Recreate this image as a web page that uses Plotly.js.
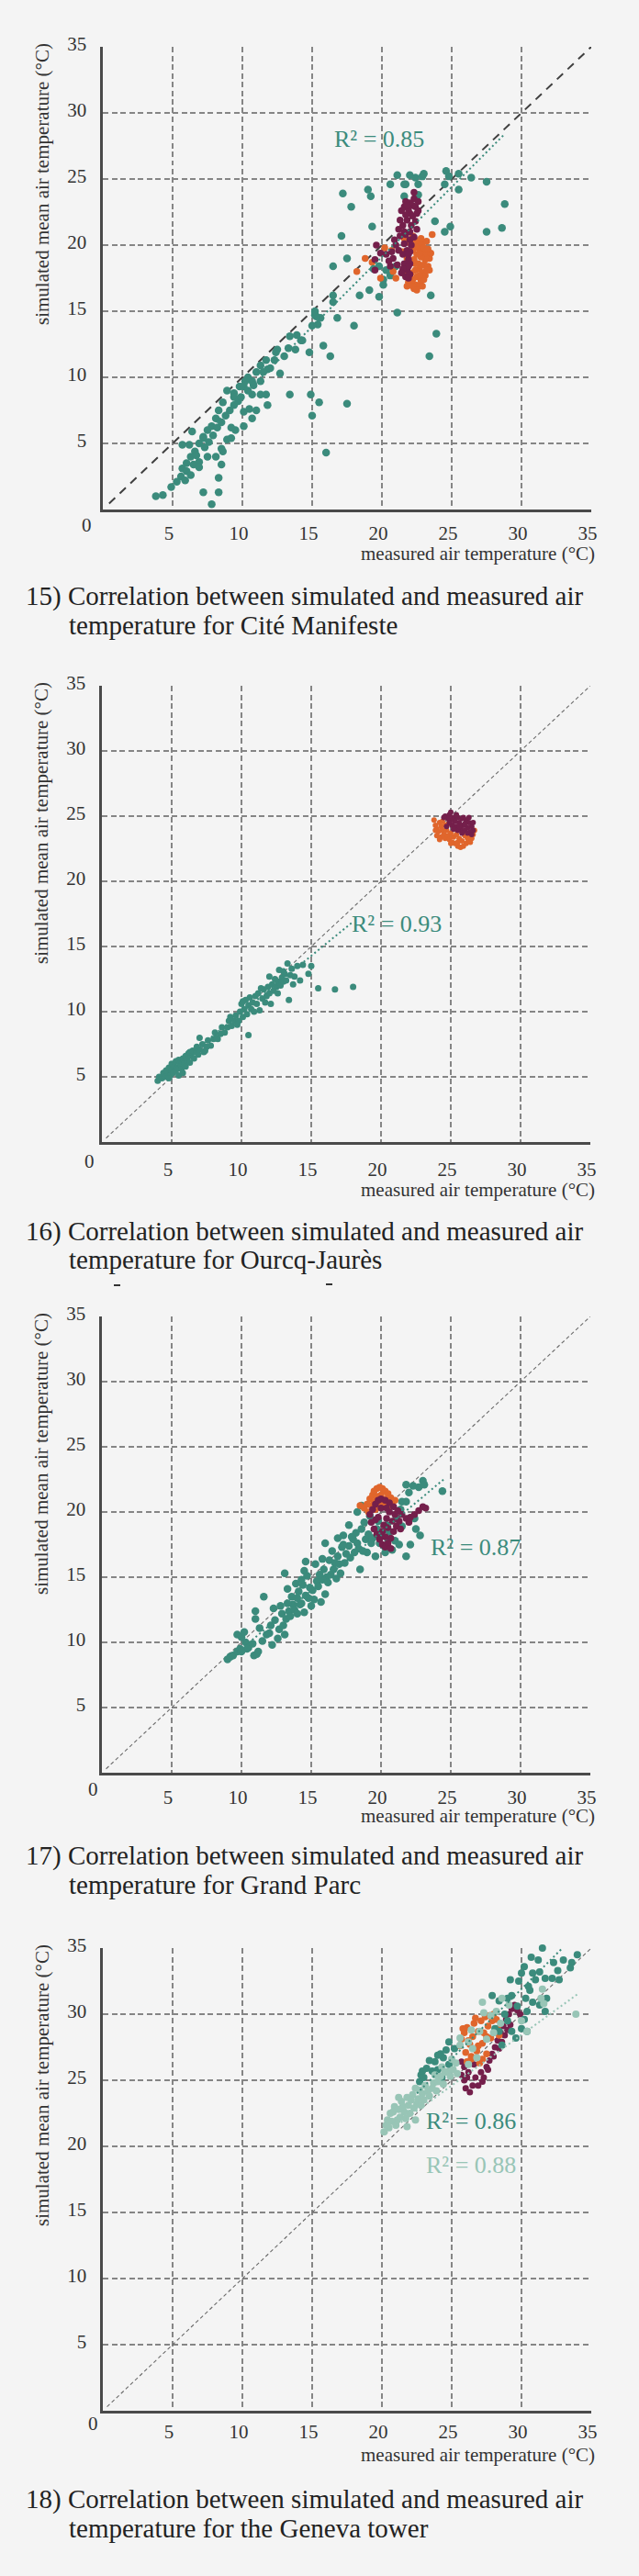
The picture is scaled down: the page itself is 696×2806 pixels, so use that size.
<!DOCTYPE html>
<html><head><meta charset="utf-8">
<script src="https://cdn.plot.ly/plotly-3.0.1.min.js"></script>
<style>html,body{margin:0;padding:0;background:#f4f4f4;}#chart{width:696px;height:2806px;}</style>
</head><body><div id="chart"></div>
<script>
// ---------- DATA (measured x, simulated y) ----------
const tickVals = [5, 10, 15, 20, 25, 30, 35];
const tickText = ["5", "10", "15", "20", "25", "30", "35"];
const diagonal1 = [[0.45, 0.45], [35, 35]];
const diagonal = [[0.3, 0.3], [35, 35]];

// Chart 15 – Cité Manifeste
const c1Teal = [
[21.1,25.3],[21.7,24.6],[22.0,25.3],[22.4,25.1],[22.9,25.2],[23.0,25.4],[20.6,24.6],[21.6,24.6],[22.6,24.6],[24.6,25.6],[24.8,25.2],[25.5,25.4],[26.4,25.1],[27.5,24.8],[24.5,24.6],[25.5,24.2],[19.0,24.2],[19.2,23.7],[17.2,23.9],[21.6,23.7],[22.6,23.8],[28.8,23.1],[17.8,22.9],
[23.8,21.8],[24.5,21.0],[24.9,21.4],[27.5,21.0],[28.6,21.3],[19.3,21.4],[17.1,20.7],[17.5,19.0],[16.5,18.4],[19.1,16.6],[18.4,16.2],[19.8,16.1],[20.1,17.0],[20.1,17.4],[21.1,14.9],[23.5,16.2],[23.9,13.3],[23.4,11.6],[16.5,16.2],[16.5,15.7],[16.8,14.5],[18.0,13.9],[15.2,14.7],[15.6,14.5],[15.4,14.0],[15.8,12.4],[16.3,11.6],[14.8,11.9],[14.2,12.8],[13.4,13.1],[13.9,13.2],[13.8,12.1],[12.7,10.3],[12.5,12.1],[12.4,11.9],[11.7,11.3],[11.3,10.9],[11.0,10.4],[11.8,10.6],[13.4,8.7],[14.9,8.7],[15.5,8.1],[15.0,7.1],[17.5,8.0],[16.0,4.3],
[10.7,9.7],[10.2,9.7],[9.8,9.3],[9.4,8.8],[8.9,9.0],[8.6,8.1],[8.3,7.5],[8.1,6.9],[7.8,6.3],[7.5,6.0],[7.2,5.4],[6.9,5.0],[6.6,4.4],[6.3,4.0],[6.0,3.5],[5.7,3.1],[5.6,2.5],[5.3,2.1],[4.9,1.7],[4.3,1.1],[3.8,1.0],[5.7,4.9],[6.2,4.9],[6.4,5.9],[7.2,5.5],[7.5,4.0],[6.9,3.6],[8.5,4.6],[8.6,4.4],[8.5,3.4],[8.1,4.0],[8.3,2.4],[8.3,1.3],[7.2,1.3],[7.8,0.4],[7.2,-0.2],
[9.5,6.0],[10.1,6.3],[10.5,7.6],[11.0,7.5],[10.1,7.4],[8.9,5.3],[9.2,5.4],[9.2,6.2],[10.7,6.9],[10.7,8.7],[11.3,8.7],[11.7,8.7],[11.8,7.9],[9.4,8.5],[10.1,9.3],[10.4,10.0],
[6.0,2.9],[6.3,2.6],[5.9,2.2],[6.5,3.4],[6.9,3.2],[6.7,4.1],[7.3,4.7],[7.6,5.1],[7.9,5.6],[8.2,6.2],[8.5,6.6],[8.8,7.1],[9.1,7.5],[9.4,7.9],[9.7,8.2],[9.9,8.5],[10.4,9.0],[10.8,9.4],[11.3,9.7],[11.5,10.4],[12.0,10.7],[12.3,11.3],[13.0,11.6],[13.3,12.2],[14.3,12.8],[15.0,13.9],[15.3,14.6],[15.2,15.0],
[19.8,18.4],[20.3,18.1],[20.6,17.7],[21.0,18.4],[19.4,18.2]
];
const c1Orange = [
[18.2,18.0],[18.8,19.0],[19.3,18.7],[19.9,17.5],[20.2,19.8],[20.7,19.6],[20.8,18.0],[21.0,17.5],[23.6,20.8],[21.6,20.5],[21.8,20.2],[22.3,20.4],[22.6,20.3],[22.9,20.1],[22.6,19.8],[22.9,19.5],[23.2,19.3],[23.4,19.0],[23.1,18.9],[22.8,19.1],[22.5,19.3],[22.3,18.9],[22.6,18.6],[23.0,18.5],[23.3,18.4],[22.7,18.2],[22.4,18.1],[22.1,17.9],[22.9,17.9],[23.1,17.7],[22.5,17.6],[22.2,17.4],[22.8,17.3],[22.4,17.0],[22.1,17.1],[22.6,16.9],[22.3,16.7],[21.9,17.2],[21.7,17.7],[21.6,18.3],[22.0,18.6],[21.8,19.0],[23.4,18.1],[23.5,19.4],[23.2,20.3],[22.2,19.6],[21.5,19.5],[22.9,16.9],[21.8,16.9],[23.0,17.4],
[22.2,16.9],[22.5,16.6],[22.0,17.6],[22.7,17.7],[23.2,18.1],[22.4,18.6],[22.7,19.4],[23.0,19.8],[23.3,19.7],[22.4,19.9],[22.8,20.5],[22.2,20.7]
];
const c1Plum = [
[19.5,18.9],[19.5,18.1],[19.6,20.0],[19.9,19.4],[20.3,19.3],[20.5,18.8],[20.7,19.5],[20.6,18.4],[21.0,20.0],[21.3,20.7],[21.2,21.2],[21.3,21.9],[21.4,22.6],[21.6,22.9],[21.7,23.3],[22.3,23.5],[22.4,22.9],[22.0,22.4],[22.6,22.6],[21.8,21.9],[22.1,21.5],[21.5,21.5],[21.7,20.8],[22.0,20.4],[21.6,20.1],[21.8,19.6],[21.5,19.3],[21.9,18.9],[21.6,18.6],[21.8,18.1],[21.7,17.6],[22.2,23.0],[22.0,23.2],[21.9,22.7],[22.2,22.2],[22.4,21.8],[21.7,22.3],[22.5,21.2],[22.0,21.0],[21.6,21.0],[22.3,20.6],[22.1,20.0],[22.0,19.5],[21.9,19.3],[22.0,18.6],[21.9,18.4],[21.5,18.2],[22.0,17.8],[21.9,17.5],[20.8,19.0],[21.1,18.5],[21.2,19.6],[20.9,20.4],[21.4,17.9],[22.5,22.4],[22.6,23.3],[22.3,24.0],[21.8,23.0]
];
const c1Trend = [[7.2, 5.6], [28.7, 28.3]];
const c1R2 = "R² = 0.85";

// Chart 16 – Ourcq-Jaurès
const c2Teal = [
[4.0,4.7],[4.1,5.0],[4.3,4.9],[4.4,5.3],[4.5,5.0],[4.6,5.5],[4.7,5.2],[4.8,5.7],[4.9,5.1],[5.0,5.5],[5.0,6.0],[5.1,5.3],[5.2,5.8],[5.3,5.5],[5.3,6.2],[5.4,5.7],[5.5,6.3],[5.5,5.1],[5.6,6.0],[5.7,5.6],[5.8,6.4],[5.9,6.0],[6.0,6.6],[6.0,5.8],[6.1,6.3],[6.2,6.8],[6.3,6.1],[6.4,6.6],[6.5,7.0],[6.6,6.4],[6.7,6.9],[6.8,7.3],[6.9,6.7],[7.0,7.1],[7.0,8.0],[7.2,7.5],[7.3,6.9],[7.5,7.3],[7.6,7.8],[7.8,7.4],[8.0,7.9],[8.1,8.4],[8.3,7.9],[8.5,8.3],[8.6,8.8],[8.8,8.4],[9.0,8.8],[9.1,9.3],[9.3,8.9],[9.5,9.3],[9.6,9.7],[9.8,9.3],[9.9,10.0],[10.0,10.6],[10.1,9.6],[10.2,10.2],[10.3,10.9],[10.4,9.8],[10.5,10.5],[10.5,8.2],[10.6,11.1],[10.7,10.2],[10.8,10.7],[10.9,10.0],[11.0,11.2],[11.1,10.6],[11.2,11.4],[11.3,10.1],[11.5,11.0],[11.6,11.7],[11.8,11.2],[11.9,11.9],[12.0,11.4],[12.1,10.6],[12.2,12.1],[12.3,11.6],[12.4,12.5],[12.5,11.9],[12.6,12.3],[12.7,13.2],[12.8,12.0],[12.9,12.6],[13.0,12.3],[13.1,12.9],[13.2,12.4],[13.3,13.7],[13.4,10.9],[13.5,12.8],[13.6,13.3],[13.7,12.1],[14.0,13.5],[14.4,13.6],[14.8,12.9],[15.0,13.5],[15.5,11.8],[16.7,11.7],[18.0,11.9],[11.4,11.8],[12.0,12.7],[9.2,9.6],[8.2,8.0],[7.4,7.0],[6.3,6.9],[5.8,5.3],[4.8,4.9],[10.1,10.8],[9.7,9.0],[11.7,10.7],[12.6,11.4],[13.8,12.7],[14.2,12.4],[13.0,13.1]
];
const c2Orange = [
[23.8,24.7],[23.9,24.3],[24.0,24.0],[24.1,23.8],[24.0,23.5],[24.2,24.5],[24.3,24.2],[24.4,23.9],[24.5,23.6],[24.3,23.4],[24.6,23.3],[24.8,23.5],[24.9,23.2],[25.1,23.0],[25.3,22.9],[25.5,22.7],[25.7,22.6],[25.9,22.7],[26.1,22.9],[26.3,23.1],[26.5,23.3],[26.6,23.6],[26.4,23.5],[26.2,23.3],[25.8,23.1],[25.6,23.3],[25.2,23.4],[25.0,23.7],[24.7,23.9],[24.6,24.3],[24.4,24.6],[24.8,24.4],[25.4,23.6],[26.0,23.5],[25.5,23.0],[24.2,23.2],[23.9,23.9],[26.7,23.9],[26.4,23.0],[25.0,22.9]
];
const c2Plum = [
[24.6,25.0],[24.9,25.1],[25.2,24.9],[25.5,24.9],[25.8,24.8],[26.1,24.7],[26.3,24.5],[26.5,24.2],[26.6,23.9],[26.4,23.8],[26.2,24.1],[25.9,24.3],[25.6,24.5],[25.3,24.6],[25.0,24.7],[24.8,24.8],[25.1,24.3],[25.4,24.2],[25.7,24.0],[26.0,23.9],[26.2,23.7],[25.8,23.7],[25.5,23.9],[25.2,24.0],[24.9,24.5],[24.5,24.9],[26.0,24.4],[25.6,24.2],[26.3,24.9],[25.0,25.3],[25.4,25.1],[26.6,24.5],[26.5,23.6],[24.7,24.2],[25.9,24.9]
];
const c2Trend = [[4.0, 4.7], [18.0, 16.9]];
const c2R2 = "R² = 0.93";

// Chart 17 – Grand Parc
const c3Teal = [
[9.0,8.7],[9.2,8.9],[9.4,9.0],[9.7,9.3],[9.9,9.5],[9.7,10.6],[10.0,10.4],[10.2,10.8],[10.3,10.0],[10.5,9.6],[10.9,9.0],[11.1,9.1],[11.2,9.3],[11.0,11.8],[11.0,12.4],[11.6,13.5],[11.3,11.1],[11.8,10.6],[12.1,11.3],[12.2,9.8],[12.6,10.3],[13.1,10.6],[13.2,11.8],[13.1,15.3],[13.4,12.4],[13.7,12.9],[14.0,13.4],[14.1,13.9],[14.4,14.4],[14.5,15.5],[14.2,12.9],[14.8,13.4],[15.1,14.0],[15.3,16.0],[15.4,14.7],[15.7,13.1],[16.0,13.7],[16.1,15.0],[16.0,17.6],[16.3,16.3],[16.6,15.6],[16.9,16.6],[17.2,17.3],[17.3,18.2],[17.4,16.1],[17.7,19.0],[17.7,17.4],[18.0,17.9],[18.3,17.6],[18.5,15.6],[18.6,18.7],[18.9,17.9],[19.0,16.9],[19.3,17.6],[19.6,16.6],[19.9,17.6],[20.3,16.9],[20.5,17.9],[20.8,17.1],[21.1,19.5],[21.5,18.9],[21.8,20.8],[21.8,16.6],[22.4,19.5],[22.5,18.7],[22.8,18.2],[23.0,22.4],[22.7,21.9],[24.4,21.6],[21.8,22.1],[21.5,20.8],[21.4,20.2],[18.6,20.5],[18.3,20.0],
[13.5,12.0],[13.8,12.5],[14.0,12.2],[14.3,13.0],[14.6,13.6],[14.9,14.2],[15.0,12.8],[15.2,13.3],[15.5,14.3],[15.8,14.8],[15.9,15.6],[16.2,14.6],[16.4,15.2],[16.7,16.1],[16.8,14.9],[17.0,16.0],[17.1,15.3],[17.5,16.8],[17.8,16.5],[18.1,16.9],[18.2,18.4],[18.4,17.2],[18.7,17.0],[19.1,18.3],[19.4,18.0],[19.7,18.7],[20.0,18.2],[20.2,17.4],[20.6,18.5],[21.0,17.8],[21.3,17.5],[14.7,15.1],[14.3,14.8],[13.9,14.5],[13.6,13.5],[13.3,13.0],[12.9,12.2],[12.4,11.7],[12.7,11.0],[12.0,10.7],[11.5,10.1],[10.8,9.9],[10.4,9.5],[10.0,9.3],[12.8,12.8],[13.0,11.3],[14.5,12.3],[15.6,15.2],[16.5,17.0],[17.3,17.5],[17.9,18.1],[18.8,19.2],[19.2,19.7],[19.8,19.3],[20.4,19.0],[22.0,21.5],[22.3,22.0],[23.1,22.1],[22.1,17.5],[16.9,18.0],[15.8,16.4],[14.6,16.2],[13.3,14.1],[12.3,12.6]
];
const c3Orange = [
[18.5,20.5],[18.8,20.3],[19.0,20.6],[19.2,21.0],[19.4,21.3],[19.5,21.6],[19.7,21.8],[19.9,21.9],[20.1,21.8],[20.3,21.6],[20.5,21.4],[20.7,21.1],[20.4,21.0],[20.0,21.3],[19.7,21.2],[19.5,20.8],[19.3,20.5],[20.8,20.8],[20.2,20.6],[19.9,20.6],[19.6,20.2],[20.6,20.4],[21.0,20.9],[19.1,20.0]
];
const c3Plum = [
[19.2,19.8],[19.4,20.2],[19.6,20.6],[19.8,20.9],[20.0,21.0],[20.3,20.9],[20.6,20.7],[20.9,20.4],[21.2,20.1],[21.5,19.8],[21.8,19.5],[22.1,19.6],[22.4,19.8],[22.7,20.1],[23.0,20.4],[23.2,20.3],[19.3,19.2],[19.5,18.7],[19.7,18.3],[19.9,17.9],[20.1,17.5],[20.3,17.3],[20.5,17.6],[20.7,18.0],[20.9,18.5],[21.1,18.9],[21.3,19.3],[20.2,19.0],[20.4,19.5],[20.6,20.0],[20.0,20.3],[19.8,19.6],[20.1,18.5],[20.5,18.8],[20.8,19.3],[21.0,19.8],[19.6,19.4],[20.3,18.1],[20.7,17.2],[20.4,20.3],[21.4,18.7],[22.0,19.2]
];
const c3Trend = [[9.0, 8.6], [24.6, 22.6]];
const c3R2 = "R² = 0.87";

// Chart 18 – Geneva tower
const c4Dark = [
[33.0,37.0],[35.2,37.3],[34.6,35.8],[31.2,35.4],[31.8,35.6],[32.5,35.75],[32.8,35.2],[31.5,35.0],[30.7,34.3],[31.2,34.1],[32.3,33.9],[33.0,34.1],[33.6,33.9],[30.2,33.6],[30.0,33.1],[30.8,33.1],[31.3,33.2],[31.7,32.7],[32.2,32.7],[32.7,32.6],[29.2,32.6],[29.8,32.5],[30.5,32.1],[29.3,31.4],[29.0,31.2],[30.3,31.2],[30.8,30.9],[31.3,30.7],[31.8,31.2],[31.7,30.2],[30.4,30.2],[30.2,29.6],[30.0,28.9],[29.6,28.2],[29.3,28.7],[29.0,29.5],[28.4,28.7],[28.6,27.65],[30.4,28.7],[24.8,27.9],[24.6,27.3],[24.2,27.0],[23.8,26.4],[24.0,25.8],[23.6,25.7],[23.2,25.9],[22.9,25.7],[24.3,25.2],[24.8,26.2],[24.4,26.7],[22.7,24.9],[22.8,25.4],[23.4,26.5],[24.0,26.9],[25.2,27.4],[23.0,25.2],[28.1,28.9],[28.8,30.0],[27.9,31.4],[28.4,31.0],[29.7,30.6],[33.5,33.5],[34.0,34.5],[32.6,33.3],[31.0,32.6],[30.6,31.8]
];
const c4Light = [
[20.6,22.5],[20.3,21.6],[20.15,21.1],[20.9,23.0],[21.4,23.4],[21.8,23.7],[22.2,23.9],[22.7,24.25],[21.6,22.6],[21.1,22.0],[22.5,23.2],[23.1,24.6],[23.7,24.8],[24.2,25.3],[24.7,25.65],[25.1,25.8],[25.6,27.65],[25.6,28.2],[26.2,27.9],[26.5,27.4],[26.2,26.2],[26.8,26.7],[26.4,28.8],[27.0,28.7],[27.3,30.1],[27.8,29.9],[28.2,30.2],[28.5,29.3],[28.0,28.6],[27.5,28.1],[27.2,30.9],[28.6,31.2],[29.1,30.7],[30.0,29.5],[30.4,28.7],[31.5,31.9],[31.4,31.2],[31.6,30.8],[33.9,30.0],[22.4,22.0],[21.8,21.5],
[20.4,22.0],[20.5,21.4],[20.7,21.9],[20.8,22.6],[21.0,21.6],[21.2,22.8],[21.3,22.2],[21.5,23.0],[21.7,22.1],[21.9,23.1],[22.0,22.5],[22.1,23.5],[22.3,22.9],[22.6,23.6],[22.8,23.1],[22.9,24.0],[23.0,23.5],[23.3,24.2],[23.4,23.8],[23.6,24.4],[23.9,24.2],[24.0,24.9],[24.4,24.7],[24.5,25.6],[24.9,25.3],[25.3,26.3],[25.0,26.6],[25.4,25.5],[23.8,25.4],[24.3,26.0],[22.4,24.4],[21.2,23.7]
];
const c4Orange = [
[25.6,27.6],[25.7,28.1],[25.9,28.6],[26.0,27.1],[26.1,29.0],[26.3,27.7],[26.4,26.6],[26.5,28.3],[26.6,29.3],[26.8,27.2],[26.9,28.7],[27.0,26.3],[27.1,29.5],[27.2,27.8],[27.3,28.6],[27.4,29.8],[27.5,27.0],[27.6,29.1],[27.7,29.9],[27.8,28.2],[27.9,29.5],[28.0,30.0],[28.2,29.6],[28.3,28.9],[28.1,28.7],[27.5,28.3],[26.9,27.6],[26.4,26.8],[26.1,26.4],[27.2,26.6],[28.4,28.4],[26.7,29.7],[25.8,28.9],[26.2,28.0]
];
const c4Plum = [
[25.7,25.4],[25.9,25.0],[26.0,24.4],[26.3,24.1],[26.5,24.6],[26.7,25.2],[26.9,24.6],[27.1,25.6],[27.3,25.2],[27.5,26.0],[27.7,26.5],[27.9,27.0],[28.1,27.5],[28.3,28.0],[28.5,28.6],[28.7,29.1],[28.9,29.6],[29.1,30.0],[29.3,30.4],[29.5,30.7],[29.7,30.3],[29.9,30.0],[29.2,29.2],[28.8,28.4],[28.4,27.4],[28.0,26.8],[27.6,25.8],[26.2,25.6],[25.9,26.0],[26.6,26.2],[27.2,24.9],[26.1,25.2],[28.6,27.9],[29.0,28.8],[27.0,26.5],[25.7,26.4]
];
const c4DarkTrend = [[22.5, 24.0], [35.4, 37.6]];
const c4LightTrend = [[20.3, 21.0], [34.0, 31.5]];
const c4R2Dark = "R² = 0.86";
const c4R2Light = "R² = 0.88";

const captions = [
  ["15) Correlation between simulated and measured air", "temperature for Cité Manifeste"],
  ["16) Correlation between simulated and measured air", "temperature for Ourcq-Jaurès"],
  ["17) Correlation between simulated and measured air", "temperature for Grand Parc"],
  ["18) Correlation between simulated and measured air", "temperature for the Geneva tower"]
];
const xTitle = "measured air temperature (°C)";
const yTitle = "simulated mean air temperature (°C)";

// ---------- STYLE ----------
const W = 696, H = 2806;
const FONT = "Liberation Serif, Times New Roman, serif";
const TEAL = "#3b8b7c", PLUM = "#741f4b", ORANGE = "#e0662c", LTEAL = "#98c5b6";
const BG = "#f4f4f4";
// plot boxes in pixels: [left, right, top, bottom] (grid spacing kept on whole pixels)
const boxes = [[112, 644, 51, 555], [111, 643, 747, 1244], [111, 643, 1434, 1931], [112, 644, 2122, 2626]];
const xLabelStandoff = [5, 9, 6, 2];
const zeroShift = [[-18, 17], [-14, 21], [-10, 18], [-11, 14]];
const xTitleY = [603, 1296, 1978, 2674];
const capY = [[649, 681], [1341, 1372], [2021, 2053], [2722, 2754]];

const px = v => v / W, py = v => 1 - v / H;
const X = a => a.map(p => p[0]), Y = a => a.map(p => p[1]);

const traces = [];
const sfx = k => (k === 1 ? "" : String(k));
function dots(arr, k, color, size) {
  traces.push({type: "scatter", mode: "markers", x: X(arr), y: Y(arr), xaxis: "x" + sfx(k), yaxis: "y" + sfx(k),
    marker: {color: color, size: size, line: {width: 0}}, cliponaxis: false, hoverinfo: "skip"});
}
function line(arr, k, color, width, dash) {
  traces.push({type: "scatter", mode: "lines", x: X(arr), y: Y(arr), xaxis: "x" + sfx(k), yaxis: "y" + sfx(k),
    line: {color: color, width: width, dash: dash}, cliponaxis: false, hoverinfo: "skip"});
}

// chart 1
line(diagonal1, 1, "#3f3f3f", 2, "9px,7px");
dots(c1Teal, 1, TEAL, 8.5);
dots(c1Orange, 1, ORANGE, 7.5);
dots(c1Plum, 1, PLUM, 7.5);
line(c1Trend, 1, TEAL, 2, "2px,3px");
// chart 2
line(diagonal, 2, "#6a6a6a", 1.1, "4px,3px");
dots(c2Teal, 2, TEAL, 7);
dots(c2Orange, 2, ORANGE, 6);
dots(c2Plum, 2, PLUM, 6);
line(c2Trend, 2, TEAL, 2, "2px,3px");
// chart 3
line(diagonal, 3, "#6a6a6a", 1.1, "4px,3px");
dots(c3Teal, 3, TEAL, 8.5);
dots(c3Orange, 3, ORANGE, 7.5);
dots(c3Plum, 3, PLUM, 7.5);
line(c3Trend, 3, TEAL, 2, "2px,3px");
// chart 4
line(diagonal, 4, "#6a6a6a", 1.1, "4px,3px");
dots(c4Plum, 4, PLUM, 7);
dots(c4Orange, 4, ORANGE, 7.5);
dots(c4Dark, 4, TEAL, 8);
dots(c4Light, 4, LTEAL, 8);
line(c4DarkTrend, 4, TEAL, 2, "2px,3px");
line(c4LightTrend, 4, LTEAL, 2, "2px,3px");

const layout = {width: W, height: H, autosize: false, margin: {l: 0, r: 0, t: 0, b: 0},
  paper_bgcolor: BG, plot_bgcolor: BG, showlegend: false, font: {family: FONT, color: "#333"},
  annotations: [], shapes: []};

boxes.forEach((b, i) => {
  const k = i + 1, s = sfx(k);
  const axBase = {range: [0, 35], tickvals: tickVals, ticktext: tickText, showgrid: true, griddash: "6px,3.5px",
    gridcolor: "#858585", gridwidth: 2, showline: true, linecolor: "#4a4a4a", linewidth: 2.6, zeroline: false,
    ticks: "", tickfont: {family: FONT, size: 21, color: "#333"}, fixedrange: true};
  layout["xaxis" + s] = Object.assign({}, axBase, {domain: [px(b[0]), px(b[1])], anchor: "y" + s,
    ticklabelstandoff: xLabelStandoff[i], ticklabelshift: -4});
  layout["yaxis" + s] = Object.assign({}, axBase, {domain: [py(b[3]), py(b[2])], anchor: "x" + s,
    ticklabelstandoff: 11, ticklabelshift: -3});
  // shared origin label "0"
  layout.annotations.push({xref: "x" + s, yref: "y" + s, x: 0, y: 0, text: "0", showarrow: false, xanchor: "center", yanchor: "middle",
    xshift: zeroShift[i][0], yshift: -zeroShift[i][1], font: {family: FONT, size: 21, color: "#333"}});
  layout.annotations.push({xref: "paper", yref: "paper", x: px(b[0] - 66), y: py(b[2] + 150), text: yTitle, textangle: -90, showarrow: false,
    xanchor: "center", yanchor: "middle", font: {family: FONT, size: 21, color: "#333"}});
  layout.annotations.push({xref: "paper", yref: "paper", x: px(650), y: py(xTitleY[i]), text: xTitle, showarrow: false,
    xanchor: "right", yanchor: "middle", font: {family: FONT, size: 21, color: "#333"}});
  layout.annotations.push({xref: "paper", yref: "paper", x: px(26), y: py(capY[i][0]), text: captions[i][0], showarrow: false,
    xanchor: "left", yanchor: "middle", font: {family: FONT, size: 29, color: "#222"}});
  layout.annotations.push({xref: "paper", yref: "paper", x: px(73), y: py(capY[i][1]), text: captions[i][1], showarrow: false,
    xanchor: "left", yanchor: "middle", font: {family: FONT, size: 29, color: "#222"}});
});
function r2(k, x, y, text, color) {
  const s = sfx(k);
  layout.annotations.push({xref: "x" + s, yref: "y" + s, x: x, y: y, text: text, showarrow: false, xanchor: "center", yanchor: "middle",
    font: {family: FONT, size: 26, color: color}});
}
r2(1, 19.8, 28.0, c1R2, TEAL);
r2(2, 21.1, 16.7, c2R2, TEAL);
r2(3, 26.8, 17.3, c3R2, TEAL);
r2(4, 26.4, 21.9, c4R2Dark, TEAL);
r2(4, 26.4, 18.6, c4R2Light, LTEAL);
// remnants of a cut text line above chart 17
[[124, 131, 1400], [355, 362, 1399]].forEach(d => layout.shapes.push({type: "line", xref: "paper", yref: "paper",
  x0: px(d[0]), x1: px(d[1]), y0: py(d[2]), y1: py(d[2]), line: {color: "#333", width: 2}}));

Plotly.newPlot("chart", traces, layout, {staticPlot: true, displayModeBar: false});
</script></body></html>
